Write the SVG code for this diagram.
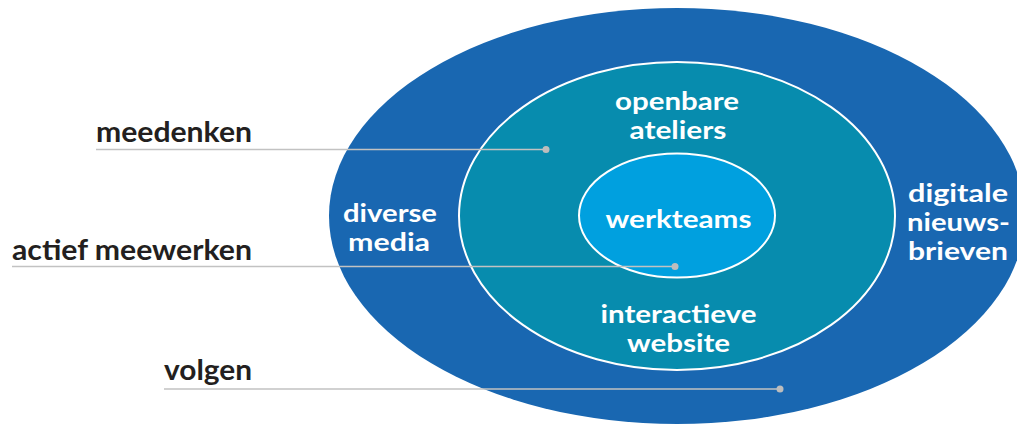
<svg xmlns="http://www.w3.org/2000/svg" width="1017" height="425" viewBox="0 0 1017 425">
  <style>
    .wt { font-family: "Lato", "Open Sans", sans-serif; font-weight: 700; font-size: 24px; fill: #ffffff; text-anchor: middle; }
    .bt { font-family: "Lato", "Open Sans", sans-serif; font-weight: 700; font-size: 29px; fill: #231f20; text-anchor: end; }
    .ln { stroke: #c2c2c2; stroke-width: 1.5; fill: none; }
    .dot { fill: #bdbdbd; }
  </style>
  <rect width="1017" height="425" fill="#ffffff"/>
  <g id="outer">
    <ellipse cx="677" cy="216" rx="348" ry="208" fill="#1967b1"/>
    <text class="wt" x="390" y="222" textLength="94" lengthAdjust="spacingAndGlyphs">diverse</text>
    <text class="wt" x="389" y="251" textLength="82" lengthAdjust="spacingAndGlyphs">media</text>
    <text class="wt" x="958" y="202" textLength="100" lengthAdjust="spacingAndGlyphs">digitale</text>
    <text class="wt" x="958.5" y="231" textLength="103" lengthAdjust="spacingAndGlyphs">nieuws-</text>
    <text class="wt" x="958" y="260" textLength="100" lengthAdjust="spacingAndGlyphs">brieven</text>
  </g>
  <g id="middle">
    <ellipse cx="677" cy="216" rx="218" ry="154" fill="#078cae" stroke="#ffffff" stroke-width="2"/>
    <text class="wt" x="677" y="110" textLength="124" lengthAdjust="spacingAndGlyphs">openbare</text>
    <text class="wt" x="678" y="139" textLength="97" lengthAdjust="spacingAndGlyphs">ateliers</text>
    <text class="wt" x="678.5" y="323" textLength="156" lengthAdjust="spacingAndGlyphs">interactieve</text>
    <text class="wt" x="678.5" y="352" textLength="103" lengthAdjust="spacingAndGlyphs">website</text>
  </g>
  <g id="inner">
    <ellipse cx="677" cy="215.5" rx="98" ry="62" fill="#00a0df" stroke="#ffffff" stroke-width="2"/>
    <text class="wt" x="678.5" y="228" textLength="146" lengthAdjust="spacingAndGlyphs">werkteams</text>
  </g>
  <g id="connectors">
    <line class="ln" x1="96" y1="149.5" x2="546" y2="149.5"/>
    <circle class="dot" cx="546" cy="149.5" r="3.5"/>
    <line class="ln" x1="12" y1="266.5" x2="675" y2="266.5"/>
    <circle class="dot" cx="675" cy="266.5" r="3.5"/>
    <line class="ln" x1="164" y1="389" x2="780" y2="389"/>
    <circle class="dot" cx="780" cy="389" r="3.5"/>
  </g>
  <g id="labels">
    <text class="bt" x="252" y="142" textLength="156" lengthAdjust="spacingAndGlyphs">meedenken</text>
    <text class="bt" x="252" y="260" textLength="240" lengthAdjust="spacingAndGlyphs">actief meewerken</text>
    <text class="bt" x="252" y="380" textLength="88" lengthAdjust="spacingAndGlyphs">volgen</text>
  </g>
</svg>
